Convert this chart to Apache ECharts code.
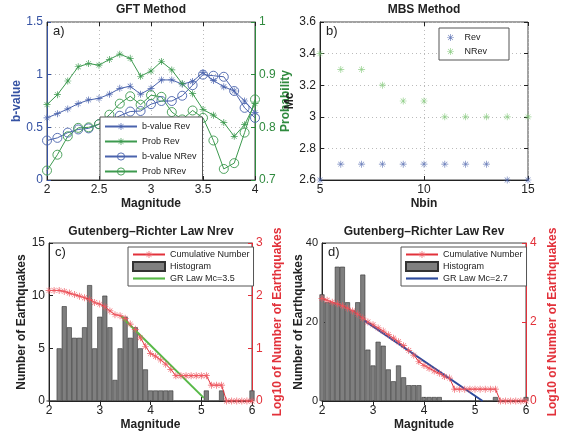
<!DOCTYPE html>
<html>
<head>
<meta charset="utf-8">
<script src="https://cdn.jsdelivr.net/npm/echarts@6/dist/echarts.min.js"></script>
<style>
html, body { margin: 0; padding: 0; background: #fff; }
#chart { width: 562px; height: 432px; }
</style>
</head>
<body>
<div id="chart"></div>
<script>
// a) GFT method
const gftMag = [2.0, 2.1, 2.2, 2.3, 2.4, 2.5, 2.6, 2.7, 2.8, 2.9, 3.0, 3.1, 3.2, 3.3, 3.4, 3.5, 3.6, 3.7, 3.8, 3.9, 4.0];
const bValueRev = [0.59, 0.63, 0.675, 0.725, 0.76, 0.775, 0.815, 0.87, 0.89, 0.815, 0.87, 0.95, 0.95, 0.91, 0.935, 1.02, 0.945, 0.885, 0.845, 0.75, 0.64];
const probRev = [0.843, 0.862, 0.888, 0.915, 0.921, 0.918, 0.929, 0.939, 0.931, 0.897, 0.907, 0.925, 0.909, 0.883, 0.864, 0.834, 0.823, 0.809, 0.783, 0.805, 0.845];
const bValueNrev = [0.375, 0.40, 0.45, 0.48, 0.49, 0.53, 0.555, 0.61, 0.65, 0.655, 0.72, 0.75, 0.75, 0.80, 0.90, 1.0, 0.99, 0.98, 0.845, 0.685, 0.59];
const probNrev = [0.718, 0.748, 0.783, 0.799, 0.80, 0.806, 0.824, 0.845, 0.859, 0.843, 0.861, 0.858, 0.829, 0.815, 0.832, 0.818, 0.775, 0.721, 0.732, 0.790, 0.853];

// b) MBS method
const nbin = [5, 6, 7, 8, 9, 10, 11, 12, 13, 14, 15];
const mcRev = [2.6, 2.7, 2.7, 2.7, 2.7, 2.7, 2.7, 2.7, 2.7, 2.6, 2.6];
const mcNrev = [3.4, 3.3, 3.3, 3.2, 3.1, 3.1, 3.0, 3.0, 3.0, 3.0, 3.0];

// c) / d) Gutenberg-Richter
const grMag = [2.0, 2.1, 2.2, 2.3, 2.4, 2.5, 2.6, 2.7, 2.8, 2.9, 3.0, 3.1, 3.2, 3.3, 3.4, 3.5, 3.6, 3.7, 3.8, 3.9,
  4.0, 4.1, 4.2, 4.3, 4.4, 4.5, 4.6, 4.7, 4.8, 4.9, 5.0, 5.1, 5.2, 5.3, 5.4, 5.5, 5.6, 5.7, 5.8, 5.9, 6.0];
const histNrev = [0, 0, 5, 9, 7, 6, 6, 7, 11, 5, 8, 10, 7, 2, 5, 8, 6, 7, 5, 3,
  1, 1, 1, 1, 1, 0, 0, 0, 0, 0, 0, 1, 0, 0, 1, 0, 0, 0, 0, 0, 1];
const cumNrev = [2.10, 2.10, 2.10, 2.08, 2.05, 2.02, 1.99, 1.96, 1.93, 1.87, 1.84, 1.79, 1.71, 1.64, 1.62, 1.57, 1.46, 1.36, 1.20, 1.04,
  0.90, 0.85, 0.78, 0.70, 0.60, 0.48, 0.48, 0.48, 0.48, 0.48, 0.48, 0.48, 0.30, 0.30, 0.30, 0, 0, 0, 0, 0, 0];
const grLawNrev = [[3.43, 1.60], [5.05, 0.06]];

const histRev = [27, 25, 25, 34, 34, 25, 23, 25, 32, 13, 9, 15, 14, 8, 5, 9, 6, 4, 4, 4,
  1, 1, 1, 1, 0, 0, 0, 0, 0, 0, 0, 0, 0, 0, 1, 0, 0, 0, 0, 0, 1];
const cumRev = [2.60, 2.55, 2.50, 2.46, 2.41, 2.35, 2.28, 2.20, 2.10, 2.00, 1.93, 1.85, 1.77, 1.68, 1.59, 1.50, 1.40, 1.28, 1.16, 1.00,
  0.90, 0.83, 0.76, 0.70, 0.62, 0.58, 0.30, 0.30, 0.30, 0.30, 0.30, 0.30, 0.30, 0.30, 0.30, 0, 0, 0, 0, 0, 0];
const grLawRev = [[2.84, 2.03], [5.15, 0.0]];

const FONT = '"Liberation Sans", Arial, Helvetica, sans-serif';
const BLUE = '#4a63ad';
const GREEN = '#3d9a4f';
const RED = '#e2313a';
const STAR = 'path://M9 0h2v20h-2Z M0 9h20v2h-20Z M2.4 3.4L3.4 2.4L17.6 16.6L16.6 17.6Z M16.6 2.4L17.6 3.4L3.4 17.6L2.4 16.6Z';
const LINE_ICON = 'path://M0 0h30v2h-30Z';

const pairs = (xs, ys) => xs.map((x, i) => [x, ys[i]]);

function axis(extra) {
  const color = extra.color || '#222';
  const base = {
    type: 'value',
    axisLine: { show: true, lineStyle: { color: color, width: 1 } },
    axisTick: { show: true, inside: true, length: 4, lineStyle: { color: color } },
    axisLabel: { color: color, fontSize: extra.labelSize || 12, fontFamily: FONT, margin: 4 },
    splitLine: { show: false },
    nameLocation: 'middle',
    nameTextStyle: { color: color, fontSize: 12, fontWeight: 'bold', fontFamily: FONT },
  };
  if (extra.grid) {
    base.splitLine = { show: true, lineStyle: { color: '#bbb', type: [1, 3] } };
  }
  if (extra.ticksOnly) {
    base.axisLine = { show: false };
    base.axisLabel = { show: false };
  }
  delete extra.color;
  delete extra.grid;
  delete extra.ticksOnly;
  delete extra.labelSize;
  return Object.assign(base, extra);
}

function legend(names, left, top, extra) {
  return Object.assign({
    data: names,
    left: left,
    top: top,
    orient: 'vertical',
    backgroundColor: '#fff',
    borderColor: '#555',
    borderWidth: 1,
    borderRadius: 0,
    padding: [3, 4, 3, 4],
    itemGap: 2,
    itemWidth: 32,
    itemHeight: 9,
    textStyle: { fontSize: 9, fontFamily: FONT, color: '#222', padding: [0, 0, 0, 0] },
    selectedMode: false,
  }, extra || {});
}

const chart = echarts.init(document.getElementById('chart'), null, { renderer: 'canvas' });

const thinCircle = { borderWidth: 0.9 };

const option = {
  animation: false,
  backgroundColor: '#fff',
  title: [
    { text: 'GFT Method', left: 151, top: 4, textAlign: 'center' },
    { text: 'MBS Method', left: 424, top: 4, textAlign: 'center' },
    { text: 'Gutenberg\u2013Richter Law Nrev', left: 151, top: 226, textAlign: 'center' },
    { text: 'Gutenberg\u2013Richter Law Rev', left: 424, top: 226, textAlign: 'center' },
  ].map(t => Object.assign(t, { padding: 0, textStyle: { fontSize: 12, fontWeight: 'bold', fontFamily: FONT, color: '#222' } })),
  grid: [
    { left: 47, top: 22, width: 208, height: 158, show: true, borderColor: '#444', borderWidth: 1 },
    { left: 320, top: 22, width: 208, height: 158, show: true, borderColor: '#444', borderWidth: 1 },
    { left: 49, top: 243, width: 203, height: 158, show: true, borderColor: '#444', borderWidth: 1 },
    { left: 322, top: 243, width: 204, height: 158, show: true, borderColor: '#444', borderWidth: 1 },
  ],
  xAxis: [
    axis({ gridIndex: 0, min: 2, max: 4, interval: 0.5, name: 'Magnitude', nameGap: 18, grid: true }),
    axis({ gridIndex: 1, min: 5, max: 15, interval: 5, name: 'Nbin', nameGap: 18, grid: true }),
    axis({ gridIndex: 2, min: 2, max: 6, interval: 1, name: 'Magnitude', nameGap: 18 }),
    axis({ gridIndex: 3, min: 2, max: 6, interval: 1, name: 'Magnitude', nameGap: 18 }),
    axis({ gridIndex: 2, min: 2, max: 6, interval: 1, position: 'top', ticksOnly: true }),
    axis({ gridIndex: 3, min: 2, max: 6, interval: 1, position: 'top', ticksOnly: true }),
    axis({ gridIndex: 0, min: 2, max: 4, interval: 0.5, position: 'top', ticksOnly: true }),
    axis({ gridIndex: 1, min: 5, max: 15, interval: 5, position: 'top', ticksOnly: true }),
  ],
  yAxis: [
    axis({ gridIndex: 0, min: 0, max: 1.5, interval: 0.5, name: 'b-value', nameGap: 24, color: '#3552a3', grid: true }),
    axis({ gridIndex: 0, min: 0.7, max: 1, interval: 0.1, position: 'right', name: 'Probability', nameGap: 17, nameRotate: 90, color: '#2f8a3e' }),
    axis({ gridIndex: 1, min: 2.6, max: 3.6, interval: 0.2, name: 'Mc', nameGap: 22, grid: true }),
    axis({ gridIndex: 2, min: 0, max: 15, interval: 5, name: 'Number of Earthquakes', nameGap: 21 }),
    axis({ gridIndex: 2, min: 0, max: 3, interval: 1, position: 'right', name: 'Log10 of Number of Earthquakes', nameGap: 20, nameRotate: 90, color: RED }),
    axis({ gridIndex: 3, min: 0, max: 40, interval: 20, labelSize: 11 }),
    axis({ gridIndex: 3, min: 0, max: 4, interval: 2, position: 'right', name: 'Log10 of Number of Earthquakes', nameGap: 21, nameRotate: 90, color: RED }),
    axis({ gridIndex: 1, min: 2.6, max: 3.6, interval: 0.2, position: 'right', ticksOnly: true }),
  ],
  legend: [
    legend([
      'b-value Rev', 'Prob Rev',
      { name: 'b-value NRev', itemStyle: thinCircle },
      { name: 'Prob NRev', itemStyle: thinCircle },
    ], 100, 117, { itemGap: 6, padding: [5, 6, 4, 4] }),
    legend([{ name: 'Rev', icon: STAR }, { name: 'NRev', icon: STAR }], 439, 28,
      { itemWidth: 18, itemHeight: 7, padding: [5, 22, 4, 8], itemGap: 5 }),
    legend(['Cumulative Number', { name: 'Histogram', icon: 'rect' }, { name: 'GR Law Mc=3.5', icon: LINE_ICON }], 128, 247),
    legend(['Cumulative Number', { name: 'Histogram', icon: 'rect' }, { name: 'GR Law Mc=2.7', icon: LINE_ICON }], 401, 247),
  ],
  graphic: [
    { type: 'text', left: 53, top: 25, style: { text: 'a)', fontSize: 13, fontFamily: FONT, fill: '#222' } },
    { type: 'text', left: 326, top: 25, style: { text: 'b)', fontSize: 13, fontFamily: FONT, fill: '#222' } },
    { type: 'text', left: 55, top: 246, style: { text: 'c)', fontSize: 13, fontFamily: FONT, fill: '#222' } },
    { type: 'text', left: 328, top: 246, style: { text: 'd)', fontSize: 13, fontFamily: FONT, fill: '#222' } },
    // left axis title of panel d, placed closer to the ticks as in the original
    { type: 'text', x: 299, y: 322, rotation: Math.PI / 2,
      style: { text: 'Number of Earthquakes', fontSize: 12, fontWeight: 'bold', fontFamily: FONT, fill: '#222',
        align: 'center', verticalAlign: 'middle' } },
  ],
  series: [
    // a)
    { name: 'b-value Rev', type: 'line', xAxisIndex: 0, yAxisIndex: 0, data: pairs(gftMag, bValueRev),
      symbol: STAR, symbolSize: 7, lineStyle: { color: BLUE, width: 1 }, itemStyle: { color: BLUE } },
    { name: 'Prob Rev', type: 'line', xAxisIndex: 0, yAxisIndex: 1, data: pairs(gftMag, probRev),
      symbol: STAR, symbolSize: 7, lineStyle: { color: GREEN, width: 1 }, itemStyle: { color: GREEN } },
    { name: 'b-value NRev', type: 'line', xAxisIndex: 0, yAxisIndex: 0, data: pairs(gftMag, bValueNrev),
      symbol: 'circle', symbolSize: 9, lineStyle: { color: BLUE, width: 1 },
      itemStyle: { color: 'rgba(0,0,0,0)', borderColor: BLUE, borderWidth: 0.9 } },
    { name: 'Prob NRev', type: 'line', xAxisIndex: 0, yAxisIndex: 1, data: pairs(gftMag, probNrev),
      symbol: 'circle', symbolSize: 9, lineStyle: { color: GREEN, width: 1 },
      itemStyle: { color: 'rgba(0,0,0,0)', borderColor: GREEN, borderWidth: 0.9 } },
    // b)
    { name: 'Rev', type: 'scatter', xAxisIndex: 1, yAxisIndex: 2, data: pairs(nbin, mcRev),
      symbol: STAR, symbolSize: 7, itemStyle: { color: '#4a62ab' } },
    { name: 'NRev', type: 'scatter', xAxisIndex: 1, yAxisIndex: 2, data: pairs(nbin, mcNrev),
      symbol: STAR, symbolSize: 7, itemStyle: { color: '#79c46f' } },
    // c)
    { name: 'Histogram', type: 'bar', xAxisIndex: 2, yAxisIndex: 3, data: pairs(grMag, histNrev), barWidth: 5,
      itemStyle: { color: '#7f7f7f', borderColor: '#333', borderWidth: 0.6 } },
    { name: 'Cumulative Number', type: 'line', xAxisIndex: 2, yAxisIndex: 4, data: pairs(grMag, cumNrev),
      symbol: STAR, symbolSize: 7, lineStyle: { color: RED, width: 1 }, itemStyle: { color: '#ee5a62' } },
    { name: 'GR Law Mc=3.5', type: 'line', xAxisIndex: 2, yAxisIndex: 4, data: grLawNrev,
      symbol: 'none', lineStyle: { color: '#57b947', width: 2 }, itemStyle: { color: '#57b947' } },
    // d)
    { name: 'Histogram', type: 'bar', xAxisIndex: 3, yAxisIndex: 5, data: pairs(grMag, histRev), barWidth: 5,
      itemStyle: { color: '#7f7f7f', borderColor: '#333', borderWidth: 0.6 } },
    { name: 'Cumulative Number', type: 'line', xAxisIndex: 3, yAxisIndex: 6, data: pairs(grMag, cumRev),
      symbol: STAR, symbolSize: 7, lineStyle: { color: RED, width: 1 }, itemStyle: { color: '#ee5a62' } },
    { name: 'GR Law Mc=2.7', type: 'line', xAxisIndex: 3, yAxisIndex: 6, data: grLawRev,
      symbol: 'none', lineStyle: { color: '#2c4a9c', width: 2 }, itemStyle: { color: '#2c4a9c' } },
  ],
};

chart.setOption(option);
</script>
</body>
</html>
